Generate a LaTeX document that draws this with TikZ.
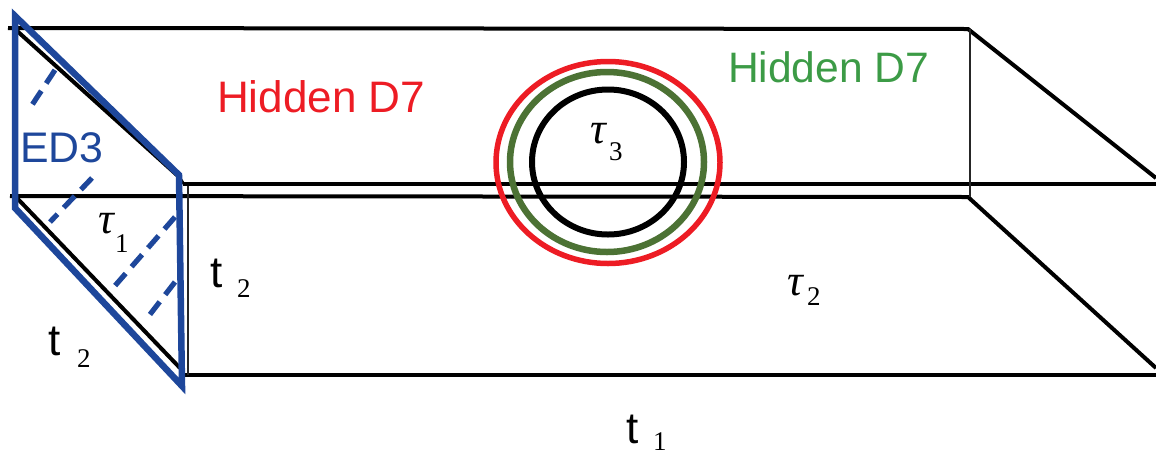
\documentclass[tikz,border=0pt]{standalone}
\usepackage{fontspec}
\setmainfont{Liberation Sans}
\newfontfamily\serifgr{Liberation Serif}
\definecolor{hred}{RGB}{237,28,36}
\definecolor{hgreen}{RGB}{60,155,70}
\definecolor{ringgreen}{RGB}{76,114,52}
\definecolor{edblue}{RGB}{30,71,155}
\tikzset{
  lab/.style={anchor=base west,inner sep=0pt,outer sep=0pt},
  big/.style={lab,font=\fontsize{44.1}{44}\selectfont},
  tee/.style={lab,text=black,font=\fontsize{44}{44}\selectfont},
  subs/.style={lab,text=black,font=\serifgr\fontsize{27}{27}\selectfont},
  taus/.style={lab,text=black,font=\serifgr\itshape\fontsize{44}{44}\selectfont},
  boxline/.style={draw=black,line width=4pt},
  thinline/.style={draw=black!85,line width=1.6pt},
  bluedash/.style={draw=edblue,line width=5.2pt,dash pattern=on 16pt off 9pt},
}
\begin{document}
\begin{tikzpicture}[x=1pt,y=-1pt]
\useasboundingbox (0,0) rectangle (1156,456);
% back box
\coordinate (tl) at (8,28);
\coordinate (tr) at (968,29);
\coordinate (ml) at (10,196);
\coordinate (mr) at (968,197);
\coordinate (fl) at (183,184);
\coordinate (fr) at (1156,184);
\coordinate (bl) at (185,375);
\coordinate (br) at (1156,375);
\draw[boxline] (tl) -- (tr) -- (1156,178);
\draw[boxline] (ml) -- (mr) -- (1156,368);
\draw[boxline,line width=4.6pt] (fl) -- (fr);
\draw[boxline] (bl) -- (br);
\draw[boxline] (16,30) -- (178,176) -- (fl);
\draw[boxline] (16,197) -- (180,368);
\draw[thinline] (16,28) -- (16,197);
\draw[thinline] (188,186) -- (188,375);
\draw[thinline] (970,29) -- (970,197);
% rings
\draw[hred,line width=5.5pt] (608,162.5) ellipse [x radius=112,y radius=101];
\draw[ringgreen,line width=6.5pt] (607,162) ellipse [x radius=97,y radius=90];
\draw[black,line width=6pt] (608,162) ellipse [x radius=76,y radius=72.5];
% ED3
\draw[edblue,line width=6.5pt,line join=miter] (15,16) -- (179,175) -- (182,386) -- (15,208) -- cycle;
\draw[bluedash] (55,70) -- (32,105);
\draw[bluedash] (92,178) -- (50,222);
\draw[bluedash] (175,217) -- (113,288);
\draw[bluedash] (175,282) -- (148,317);
% labels
\node[big,text=hred] (hr) at (217,112) {Hidden D7};
\node[big,text=hgreen,font=\fontsize{42.6}{43}\selectfont] (hg) at (728,82) {Hidden D7};
\node[big,text=edblue,font=\fontsize{42.8}{44}\selectfont] (ed) at (20,162) {ED3};
\node[taus] (tau1) at (98,233) {τ};
\node[subs] (tau1s) at (115,252) {1};
\node[taus] (tau3) at (590,143) {τ};
\node[subs] (tau3s) at (609,160) {3};
\node[taus] (tau2) at (787,295) {τ};
\node[subs] (tau2s) at (807,305) {2};
\node[tee] (t2a) at (48,355) {t};
\node[subs] (t2as) at (77,367) {2};
\node[tee] (t2b) at (210,287) {t};
\node[subs] (t2bs) at (237,297) {2};
\node[tee] (t1) at (626,443) {t};
\node[subs] (t1s) at (653,450) {1};
\end{tikzpicture}
\end{document}
